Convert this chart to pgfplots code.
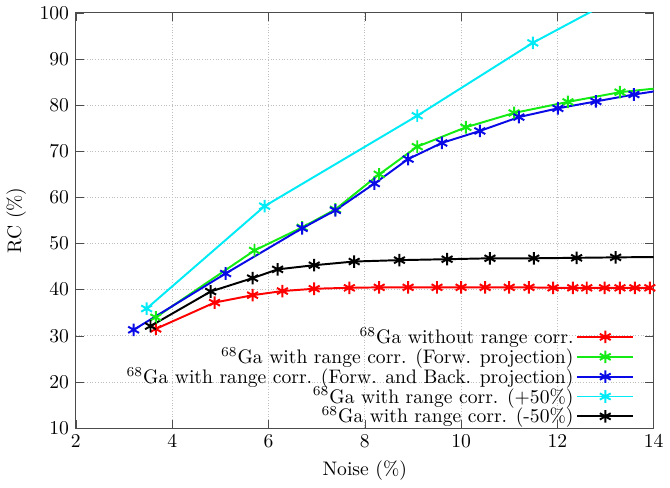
\documentclass[border=0pt]{standalone}
\usepackage{pgfplots}
\pgfplotsset{compat=1.18}
\definecolor{cgreen}{RGB}{20,235,20}
\definecolor{cblue}{RGB}{10,10,230}
\definecolor{ccyan}{RGB}{0,235,245}
\begin{document}
\begin{tikzpicture}
\begin{axis}[
  scale only axis,
  width=295pt, height=212pt,
  xmin=2, xmax=14, ymin=10, ymax=100,
  xtick={2,4,...,14}, ytick={10,20,...,100},
  grid=major,
  grid style={densely dotted, gray!50},
  axis line style={black!70},
  tick style={black!70},
  tick align=inside,
  xlabel={Noise (\%)}, ylabel={RC (\%)},
  every axis plot/.append style={line width=1pt, mark=asterisk, mark size=3.2pt},
  legend cell align=right,
  legend plot pos=right,
  legend style={at={(axis description cs:0.977,-0.012)}, anchor=south east, draw=none, fill=none, row sep=-2.5pt, nodes={inner sep=1.5pt}},
  legend image code/.code={\draw[mark repeat=2,mark phase=2] plot coordinates {(0cm,0cm) (0.5cm,0cm) (1cm,0cm)};},
]
\addplot[color=red] coordinates {
(3.66,31.5) (4.88,37.2) (5.67,38.8) (6.29,39.7) (6.95,40.2) (7.68,40.4) (8.30,40.5) (8.90,40.5) (9.50,40.5) (10.00,40.5) (10.50,40.5) (11.00,40.5) (11.41,40.5) (11.91,40.4) (12.32,40.4) (12.61,40.4) (12.98,40.4) (13.30,40.4) (13.61,40.4) (13.92,40.4)
};
\addlegendentry{$^{68}$Ga without range corr.}
\addplot[color=cgreen] coordinates {
(3.66,34.0) (5.71,48.5) (6.70,53.5) (7.39,57.4) (8.30,65.0) (9.09,71.0) (10.10,75.2) (11.10,78.3) (12.22,80.7) (13.30,82.8) (14.4,84.0)
};
\addlegendentry{$^{68}$Ga with range corr. (Forw. projection)}
\addplot[color=cblue] coordinates {
(3.20,31.3) (5.11,43.5) (6.70,53.3) (7.39,57.2) (8.20,63.0) (8.90,68.3) (9.60,71.8) (10.39,74.4) (11.20,77.4) (12.01,79.3) (12.80,80.8) (13.59,82.3) (14.4,83.6)
};
\addlegendentry{$^{68}$Ga with range corr. (Forw. and Back. projection)}
\addplot[color=ccyan] coordinates {
(3.47,35.9) (5.92,58.1) (9.09,77.7) (11.49,93.5) (13.3,103.6)
};
\addlegendentry{$^{68}$Ga with range corr. (+50\%)}
\addplot[color=black] coordinates {
(3.55,32.1) (4.80,39.6) (5.67,42.5) (6.19,44.4) (6.95,45.3) (7.78,46.1) (8.72,46.4) (9.71,46.6) (10.60,46.8) (11.51,46.8) (12.40,46.9) (13.21,47.0) (14.3,47.1)
};
\addlegendentry{$^{68}$Ga with range corr. (-50\%)}
\end{axis}
\end{tikzpicture}
\end{document}
